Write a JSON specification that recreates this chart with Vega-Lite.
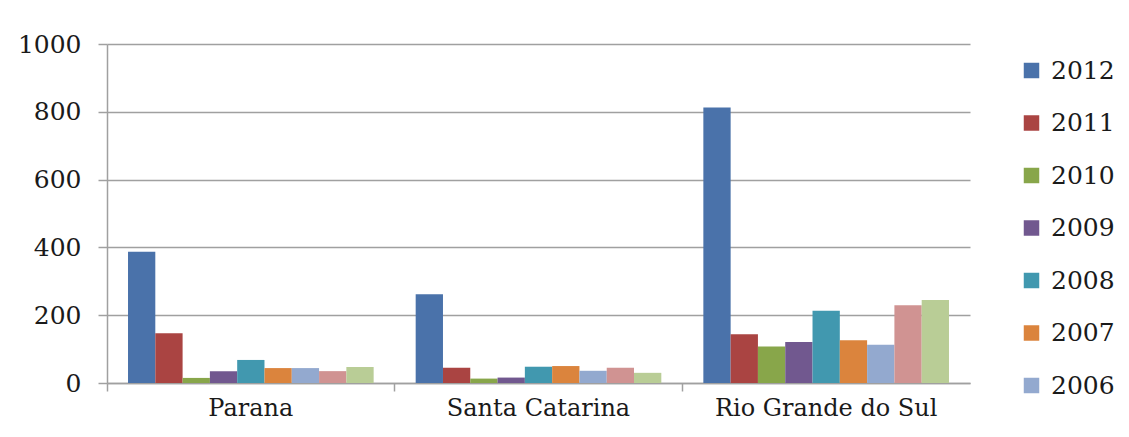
{
  "$schema": "https://vega.github.io/schema/vega-lite/v6.json",
  "width": 863,
  "height": 339,
  "autosize": {"type": "none"},
  "padding": {"left": 107, "top": 44, "right": 159, "bottom": 54},
  "background": "white",
  "config": {
    "view": {"stroke": null},
    "font": "DejaVu Serif"
  },
  "data": {
    "values": [
      {"estado": "Parana", "ano": "2012", "valor": 387},
      {"estado": "Parana", "ano": "2011", "valor": 147},
      {"estado": "Parana", "ano": "2010", "valor": 15},
      {"estado": "Parana", "ano": "2009", "valor": 35},
      {"estado": "Parana", "ano": "2008", "valor": 68},
      {"estado": "Parana", "ano": "2007", "valor": 44},
      {"estado": "Parana", "ano": "2006", "valor": 44},
      {"estado": "Parana", "ano": "2005", "valor": 35},
      {"estado": "Parana", "ano": "2004", "valor": 47},
      {"estado": "Santa Catarina", "ano": "2012", "valor": 262},
      {"estado": "Santa Catarina", "ano": "2011", "valor": 45},
      {"estado": "Santa Catarina", "ano": "2010", "valor": 13},
      {"estado": "Santa Catarina", "ano": "2009", "valor": 16},
      {"estado": "Santa Catarina", "ano": "2008", "valor": 48},
      {"estado": "Santa Catarina", "ano": "2007", "valor": 50},
      {"estado": "Santa Catarina", "ano": "2006", "valor": 36},
      {"estado": "Santa Catarina", "ano": "2005", "valor": 45},
      {"estado": "Santa Catarina", "ano": "2004", "valor": 30},
      {"estado": "Rio Grande do Sul", "ano": "2012", "valor": 813},
      {"estado": "Rio Grande do Sul", "ano": "2011", "valor": 144},
      {"estado": "Rio Grande do Sul", "ano": "2010", "valor": 108},
      {"estado": "Rio Grande do Sul", "ano": "2009", "valor": 121},
      {"estado": "Rio Grande do Sul", "ano": "2008", "valor": 213},
      {"estado": "Rio Grande do Sul", "ano": "2007", "valor": 126},
      {"estado": "Rio Grande do Sul", "ano": "2006", "valor": 113},
      {"estado": "Rio Grande do Sul", "ano": "2005", "valor": 229},
      {"estado": "Rio Grande do Sul", "ano": "2004", "valor": 245}
    ]
  },
  "mark": {"type": "bar"},
  "encoding": {
    "x": {
      "field": "estado",
      "type": "nominal",
      "sort": ["Parana", "Santa Catarina", "Rio Grande do Sul"],
      "scale": {"paddingInner": 0, "paddingOuter": 0},
      "axis": {
        "title": null,
        "labelAngle": 0,
        "labelFontSize": 24,
        "labelLimit": 0,
        "labelColor": "#1a1a1a",
        "labelPadding": 5,
        "bandPosition": 0,
        "tickSize": 8,
        "tickColor": "#a0a0a0",
        "tickWidth": 1.5,
        "domainColor": "#a0a0a0",
        "domainWidth": 1.5
      }
    },
    "xOffset": {
      "field": "ano",
      "type": "nominal",
      "sort": ["2012", "2011", "2010", "2009", "2008", "2007", "2006", "2005", "2004"],
      "scale": {"paddingInner": 0, "paddingOuter": 0.77}
    },
    "y": {
      "field": "valor",
      "type": "quantitative",
      "scale": {"domain": [0, 1000]},
      "axis": {
        "title": null,
        "values": [0, 200, 400, 600, 800, 1000],
        "format": "d",
        "labelFontSize": 25,
        "labelColor": "#1a1a1a",
        "labelPadding": 17,
        "tickSize": 9,
        "tickColor": "#a0a0a0",
        "tickWidth": 1.5,
        "domainColor": "#a0a0a0",
        "domainWidth": 1.5,
        "gridColor": "#a0a0a0",
        "gridWidth": 1.5
      }
    },
    "color": {
      "field": "ano",
      "type": "nominal",
      "scale": {
        "domain": ["2012", "2011", "2010", "2009", "2008", "2007", "2006", "2005", "2004"],
        "range": ["#4A72AA", "#AA4442", "#88A64A", "#71588F", "#4198AF", "#DB843D", "#93A9CF", "#D09392", "#B9CD96"]
      },
      "legend": {
        "title": null,
        "orient": "none",
        "legendX": 912,
        "legendY": 14,
        "values": ["2012", "2011", "2010", "2009", "2008", "2007", "2006"],
        "symbolType": "square",
        "symbolSize": 240,
        "symbolStrokeWidth": 0,
        "labelFontSize": 25,
        "labelColor": "#1a1a1a",
        "labelOffset": 7,
        "rowPadding": 26.5
      }
    }
  }
}
